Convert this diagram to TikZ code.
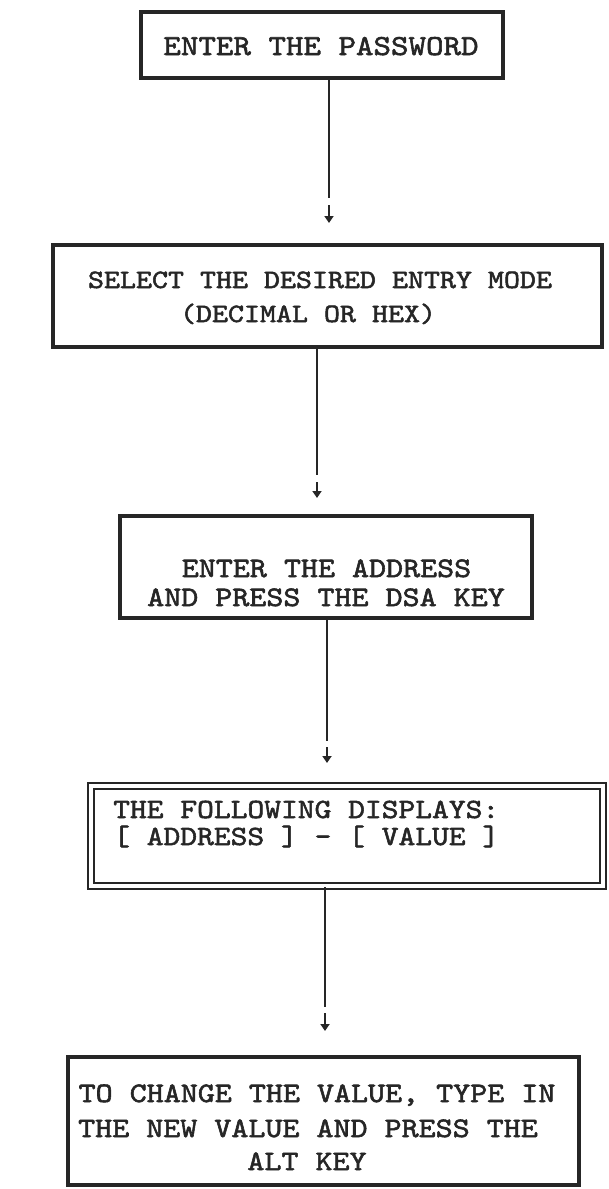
\documentclass[tikz,border=0pt]{standalone}
\usepackage{fontspec}
\usetikzlibrary{arrows.meta}
% heavy, slightly widened typewriter face
\newfontfamily\typer[FakeBold=2,FakeStretch=1.15]{lmmono10-regular.otf}
\definecolor{ink}{HTML}{262626}
\begin{document}
\begin{tikzpicture}[x=1pt,y=-1pt,
  stepbox/.style={draw=ink,line width=4pt,inner sep=0pt},
  dblbox/.style={draw=ink,line width=2pt,double=white,double distance=4pt,inner sep=0pt},
  wire/.style={draw=ink,line width=2.6pt},
  tipline/.style={draw=ink,line width=2.2pt,-{Triangle[length=7pt,width=9pt]}},
  txt/.style={anchor=base,inner sep=0pt,text=ink},
  tw/.style={font=\typer\fontsize{#1}{#1}\selectfont}]
\useasboundingbox (0,0) rectangle (608,1189);

% boxes
\node[stepbox,minimum width=362pt,minimum height=66pt] (b1) at (322,45) {};
\node[stepbox,minimum width=549pt,minimum height=102pt] (b2) at (327.5,296) {};
\node[stepbox,minimum width=411.5pt,minimum height=102pt] (b3) at (326,566.5) {};
\node[dblbox,minimum width=512pt,minimum height=100pt] (b4) at (347,836) {};
\node[stepbox,minimum width=511pt,minimum height=128pt] (b5) at (323.5,1121) {};

% typed lines
\node[txt,tw=29pt] (t1) at (321,55) {ENTER THE PASSWORD};
\node[txt,tw=26.5pt] (t2a) at (320,288) {SELECT THE DESIRED ENTRY MODE};
\node[txt,tw=26.5pt] (t2b) at (308,322) {(DECIMAL OR HEX)};
\node[txt,tw=28.2pt] (t3a) at (326.5,577) {ENTER THE ADDRESS};
\node[txt,tw=28.2pt] (t3b) at (326,606) {AND PRESS THE DSA KEY};
\node[txt,tw=27.8pt,anchor=base west] (t4a) at (113,818) {THE FOLLOWING DISPLAYS:};
\node[txt,tw=27.8pt,anchor=base west] (t4b) at (113,845) {[ ADDRESS ] - [ VALUE ]};
\node[txt,tw=28.2pt] (t5a) at (317,1102) {TO CHANGE THE VALUE, TYPE IN};
\node[txt,tw=28.2pt] (t5b) at (308,1137) {THE NEW VALUE AND PRESS THE};
\node[txt,tw=28.2pt] (t5c) at (307,1170) {ALT KEY};

% connector ends and typed arrow heads
\coordinate (e1) at (329,198);  \coordinate (h1a) at (329,205);  \coordinate (h1b) at (329,223);
\coordinate (e2) at (317,475);  \coordinate (h2a) at (317,482);  \coordinate (h2b) at (317,498);
\coordinate (e3) at (327,741);  \coordinate (h3a) at (327,747);  \coordinate (h3b) at (327,763);
\coordinate (e4) at (325,1007); \coordinate (h4a) at (325,1013); \coordinate (h4b) at (325,1031);

\draw[wire] (b1.south -| e1) -- (e1);
\draw[tipline] (h1a) -- (h1b);
\draw[wire] (b2.south -| e2) -- (e2);
\draw[tipline] (h2a) -- (h2b);
\draw[wire] (b3.south -| e3) -- (e3);
\draw[tipline] (h3a) -- (h3b);
\draw[wire] (b4.south -| e4) -- (e4);
\draw[tipline] (h4a) -- (h4b);
\end{tikzpicture}
\end{document}
